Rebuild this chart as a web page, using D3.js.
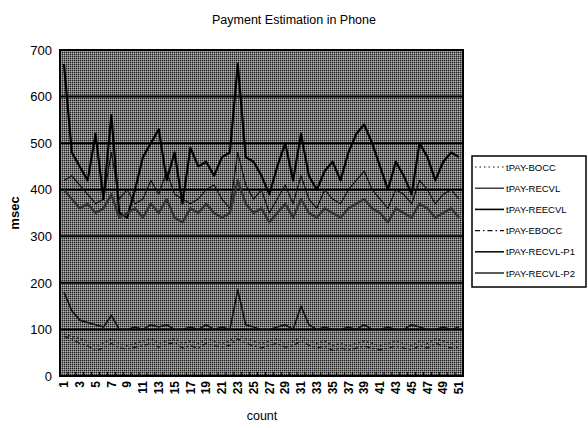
<!DOCTYPE html>
<html><head><meta charset="utf-8">
<script src="https://cdn.jsdelivr.net/npm/d3@7"></script>
<style>body{margin:0;background:#fff}svg{display:block;font-family:"Liberation Sans",Arial,sans-serif}</style>
</head><body>
<svg id="c" width="588" height="428"></svg>
<script>
const categories = d3.range(1, 52);
const yTicks = [0,100,200,300,400,500,600,700];
const seriesNames = ["tPAY-BOCC","tPAY-RECVL","tPAY-REECVL","tPAY-EBOCC","tPAY-RECVL-P1","tPAY-RECVL-P2"];
const bocc   = [90,85,80,75,65,70,80,70,65,70,75,80,70,75,80,70,75,70,80,75,70,75,90,80,75,70,75,80,70,75,85,75,70,75,65,70,65,70,75,70,65,70,75,70,65,75,70,80,75,70,75];
const recvl  = [420,430,410,390,370,380,480,380,400,370,380,420,390,440,390,380,370,380,400,410,380,360,480,410,380,400,350,380,410,370,430,380,360,400,380,370,400,420,440,400,380,360,400,390,370,420,400,370,390,400,380];
const reecvl = [670,480,450,420,520,380,560,350,340,400,470,500,530,420,480,370,490,450,460,430,470,480,670,470,460,430,390,450,500,420,520,430,400,440,460,420,480,520,540,500,450,400,460,430,390,500,470,420,460,480,470];
const ebocc  = [85,80,70,65,55,60,70,60,58,62,65,70,62,68,72,60,65,60,70,65,62,66,80,70,65,60,66,70,62,65,75,66,60,64,55,60,56,60,64,60,56,60,64,60,56,65,60,70,65,60,62];
const p1     = [180,140,120,115,110,105,130,100,100,105,100,110,105,110,100,100,105,100,110,100,105,100,185,110,105,100,100,105,110,100,150,110,100,105,100,100,105,100,110,100,100,105,100,100,110,105,100,100,105,100,105];
const p2     = [400,380,360,370,350,360,390,340,350,360,340,370,350,380,340,330,360,350,370,350,340,350,420,370,350,360,330,350,370,340,380,350,340,360,350,340,360,370,380,360,350,330,360,350,340,370,360,340,350,360,340];
const seriesValues = [bocc, recvl, reecvl, ebocc, p1, p2];
const styles = [
  {stroke:"#111", w:1.2, dash:"1.5,3"},
  {stroke:"#111", w:1.2, dash:null},
  {stroke:"#000", w:2.2, dash:null},
  {stroke:"#111", w:1.2, dash:"5,3,1.5,3"},
  {stroke:"#111", w:1.6, dash:null},
  {stroke:"#333", w:2.4, dash:null}
];

const svg = d3.select("#c");
const L=60, R=463, T=50, B=376;
const x = d3.scaleBand().domain(categories).range([L,R]);
const y = d3.scaleLinear().domain([0,700]).range([B,T]);

const defs = svg.append("defs");
const pat = defs.append("pattern").attr("id","ht").attr("width",2).attr("height",2).attr("patternUnits","userSpaceOnUse");
pat.append("rect").attr("width",2).attr("height",2).attr("fill","#777");
pat.append("rect").attr("width",1).attr("height",1).attr("fill","#1e1e1e");
pat.append("rect").attr("x",1).attr("y",1).attr("width",1).attr("height",1).attr("fill","#adadad");

svg.append("text").attr("x",294).attr("y",24).attr("text-anchor","middle").attr("font-size",12.5).text("Payment Estimation in Phone");

svg.append("rect").attr("x",L).attr("y",T).attr("width",R-L).attr("height",B-T).attr("fill","url(#ht)");

// gridlines
svg.append("g").selectAll("line").data(yTicks.filter(d=>d>0)).join("line")
  .attr("x1",L).attr("x2",R).attr("y1",d=>y(d)).attr("y2",d=>y(d))
  .attr("stroke","#000").attr("stroke-width",2);

// series
const line = d3.line().x((d,i)=>x(categories[i])+x.bandwidth()/2).y(d=>y(d));
svg.append("g").selectAll("path").data(seriesValues).join("path")
  .attr("d",d=>line(d)).attr("fill","none")
  .attr("stroke",(d,i)=>styles[i].stroke).attr("stroke-width",(d,i)=>styles[i].w)
  .attr("stroke-dasharray",(d,i)=>styles[i].dash).attr("stroke-linejoin","round");

// frame
svg.append("rect").attr("x",L).attr("y",T).attr("width",R-L).attr("height",B-T).attr("fill","none").attr("stroke","#000").attr("stroke-width",2);

// y axis
const ya = svg.append("g").attr("transform",`translate(${L},0)`).call(d3.axisLeft(y).tickValues(yTicks).tickSize(0).tickPadding(8));
ya.select(".domain").remove();
ya.selectAll("text").attr("font-size",13).attr("fill","#000").attr("font-family","Liberation Sans, Arial");

// x axis
const xa = svg.append("g").attr("transform",`translate(0,${B})`).call(d3.axisBottom(x).tickValues(categories.filter(d=>d%2===1)).tickSize(0));
xa.select(".domain").remove();
xa.selectAll("text").attr("font-size",12).attr("font-weight","bold").attr("fill","#000")
  .attr("font-family","Liberation Sans, Arial")
  .attr("transform","rotate(-90)").attr("text-anchor","end").attr("x",-5).attr("y",0).attr("dy","0.35em");
// minor ticks
svg.append("g").selectAll("line").data(categories).join("line")
  .attr("x1",d=>x(d)).attr("x2",d=>x(d)).attr("y1",B-4).attr("y2",B).attr("stroke","#000");

svg.append("text").attr("x",262).attr("y",420).attr("text-anchor","middle").attr("font-size",12.5).text("count");
svg.append("text").attr("transform","translate(19,213) rotate(-90)").attr("text-anchor","middle").attr("font-size",13).attr("font-weight","bold").text("msec");

// legend
const lg = svg.append("g");
lg.append("rect").attr("x",472).attr("y",156).attr("width",114).attr("height",131).attr("fill","#fff").attr("stroke","#000").attr("stroke-width",1.5);
const items = lg.selectAll("g").data(seriesNames).join("g").attr("transform",(d,i)=>`translate(0,${167+i*21.2})`);
items.append("line").attr("x1",475).attr("x2",504).attr("y1",0).attr("y2",0)
  .attr("stroke",(d,i)=>styles[i].stroke).attr("stroke-width",(d,i)=>Math.min(styles[i].w,1.6))
  .attr("stroke-dasharray",(d,i)=>styles[i].dash);
items.append("text").attr("x",506).attr("y",3.5).attr("font-size",9.5).text(d=>d);
</script>
</body></html>
